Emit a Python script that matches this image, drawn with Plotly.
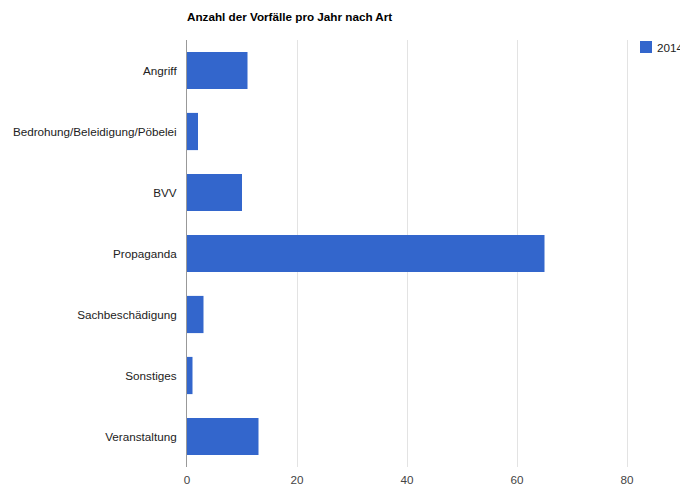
import plotly.graph_objects as go

categories = ["Angriff", "Bedrohung/Beleidigung/Pöbelei", "BVV", "Propaganda",
              "Sachbeschädigung", "Sonstiges", "Veranstaltung"]
values_2014 = [11, 2, 10, 65, 3, 1, 13]
x_ticks = [0, 20, 40, 60, 80]
series_name = "2014"
title_text = "Anzahl der Vorfälle pro Jahr nach Art"

L, R, T, B = 187, 20, 40, 18
W, H = 680, 485
pw = W - L - R
ph = H - T - B
FS = 11.7

fig = go.Figure(go.Bar(
    x=values_2014, y=categories, orientation="h", name=series_name,
    marker=dict(color="#3366cc", line=dict(width=0)),
    showlegend=False,
))

# legend entry drawn as a swatch + label (reference legend is clipped at the right edge)
fig.add_shape(type="rect", xref="paper", yref="paper",
              x0=(640 - L) / pw, x1=(652 - L) / pw,
              y0=(H - B - 53) / ph, y1=(H - B - 41) / ph,
              fillcolor="#3366cc", line=dict(width=0))
fig.add_annotation(text=series_name, xref="paper", yref="paper",
                   x=(655 - L) / pw, xanchor="left",
                   y=(H - B - 47) / ph, yanchor="middle",
                   showarrow=False, font=dict(size=FS, color="#222222"))

fig.update_layout(
    width=W, height=H,
    margin=dict(l=L, r=R, t=T, b=B, autoexpand=False),
    paper_bgcolor="white", plot_bgcolor="white",
    font=dict(family="Liberation Sans, Arial, sans-serif", size=FS, color="#222222"),
    title=dict(text="<b>" + title_text + "</b>", xref="paper", x=0, xanchor="left",
               y=1 - 17 / H, yanchor="middle",
               font=dict(size=FS, color="#000000")),
    bargap=0.39,
    showlegend=False,
)
fig.update_xaxes(range=[0, 86], tickvals=x_ticks, showgrid=True, gridcolor="#e3e3e3",
                 gridwidth=1, zeroline=False, showline=False, ticks="",
                 ticklabelstandoff=4,
                 tickfont=dict(color="#444444", size=FS), fixedrange=True,
                 automargin=False)
fig.update_yaxes(autorange="reversed", showline=True, linecolor="#999999", linewidth=1,
                 ticks="", ticklabelstandoff=7, showgrid=False, automargin=False,
                 tickfont=dict(color="#222222", size=FS), fixedrange=True)

fig.write_html("out.html", config={"displayModeBar": False},
               post_script="document.body.style.margin='0';document.body.style.overflow='hidden';")
